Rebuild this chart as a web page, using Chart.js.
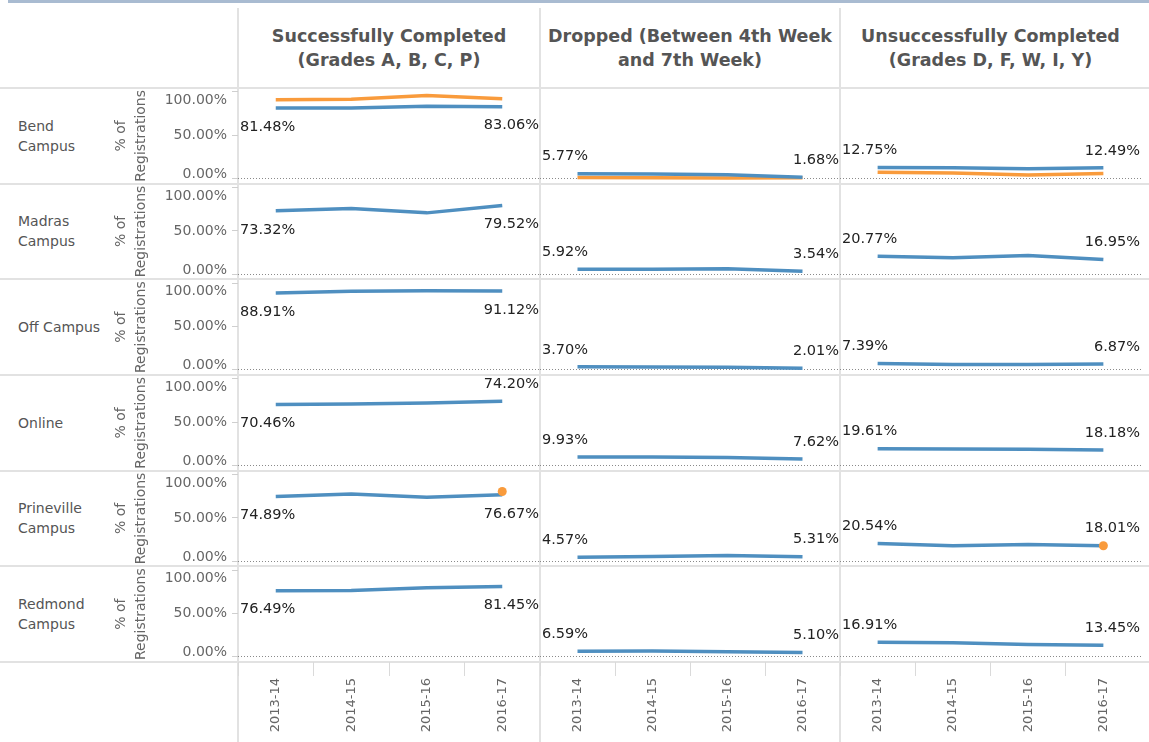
<!DOCTYPE html>
<html>
<head>
<meta charset="utf-8">
<script src="https://cdn.jsdelivr.net/npm/chart.js@4.4.1/dist/chart.umd.min.js"></script>
<style>
  body { margin: 0; background: #fff; font-family: "DejaVu Sans", sans-serif; }
  #wrap { position: relative; width: 1149px; height: 742px; overflow: hidden; }
  .topline { position: absolute; left: 8px; top: 0; width: 1141px; height: 3px; background: #a9bbd1; }
  .vline { position: absolute; top: 8px; bottom: 0; width: 2px; margin-left: -1px; background: #e2e2e2; }
  .hline { position: absolute; left: 0; width: 1149px; height: 2px; margin-top: -1px; background: #e2e2e2; }
  .head { position: absolute; top: 24px; text-align: center; font-weight: bold; font-size: 17.5px; line-height: 24px; color: #555; white-space: nowrap; }
  .rowlab { position: absolute; left: 18px; font-size: 14px; line-height: 20px; color: #555; display: flex; align-items: center; }
  canvas { position: absolute; top: 88px; }
</style>
</head>
<body>
<div id="wrap">
  <div class="topline"></div>
</div>
<script>
// categories
const seasons = ['2013-14', '2014-15', '2015-16', '2016-17'];
const campuses = [['Bend', 'Campus'], ['Madras', 'Campus'], ['Off Campus'], ['Online'], ['Prineville', 'Campus'], ['Redmond', 'Campus']];
const outcomes = [
  ['Successfully Completed', '(Grades A, B, C, P)'],
  ['Dropped (Between 4th Week', 'and 7th Week)'],
  ['Unsuccessfully Completed', '(Grades D, F, W, I, Y)']
];
const yTicks = [0, 50, 100];

// % of registrations, one row per campus, one value per season
const successful = [
  [81.48, 81.6, 83.5, 83.06],
  [73.32, 75.8, 70.9, 79.52],
  [88.91, 90.8, 91.3, 91.12],
  [70.46, 71.0, 72.2, 74.20],
  [74.89, 77.6, 73.9, 76.67],
  [76.49, 76.7, 79.8, 81.45]
];
const dropped = [
  [5.77, 5.3, 4.4, 1.68],
  [5.92, 5.9, 6.4, 3.54],
  [3.70, 3.4, 3.0, 2.01],
  [9.93, 10.0, 9.3, 7.62],
  [4.57, 5.5, 6.6, 5.31],
  [6.59, 7.0, 5.9, 5.10]
];
const unsuccessful = [
  [12.75, 12.6, 11.3, 12.49],
  [20.77, 19.2, 21.7, 16.95],
  [7.39, 6.2, 6.3, 6.87],
  [19.61, 19.3, 18.9, 18.18],
  [20.54, 17.9, 19.4, 18.01],
  [16.91, 16.5, 14.4, 13.45]
];

// second Bend series (orange line)
const bendOtherSuccessful = [91.0, 91.6, 96.0, 92.3];
const bendOtherDropped = [1.3, 1.1, 0.8, 1.0];
const bendOtherUnsuccessful = [7.4, 6.5, 4.2, 5.9];

// highlighted Prineville marks (orange dots)
const prinevilleMarkSuccessful = [null, null, null, 80.5];
const prinevilleMarkDropped = [null, null, null, null];
const prinevilleMarkUnsuccessful = [null, null, null, 18.01];

const BLUE = '#4f8fc0';
const ORANGE = '#f99b3c';
const FONT = '"DejaVu Sans", sans-serif';

const HEAD_H = 88;
const ROW_H = 574 / 6;
const AXIS_H = 80;
const colLeft = [238, 540, 840];
const colRight = [540, 840, 1141];

// which side of the line the first / last value label sits on
const labelSides = [
  [['below', 'below'], ['below', 'below'], ['below', 'below'], ['below', 'above'], ['below', 'below'], ['below', 'below']],
  campuses.map(() => ['above', 'above']),
  campuses.map(() => ['above', 'above'])
];

const wrap = document.getElementById('wrap');

function addDiv(cls, css, html) {
  const d = document.createElement('div');
  d.className = cls;
  Object.assign(d.style, css);
  if (html) d.innerHTML = html;
  wrap.appendChild(d);
  return d;
}

// grid frame, headers and row labels
for (let r = 0; r <= campuses.length; r++) {
  addDiv('hline', { top: (HEAD_H + r * ROW_H) + 'px' });
}
colLeft.forEach(x => addDiv('vline', { left: x + 'px' }));
outcomes.forEach((lines, c) => {
  addDiv('head', { left: colLeft[c] + 'px', width: (colRight[c] - colLeft[c]) + 'px' }, lines.join('<br>'));
});
campuses.forEach((lines, r) => {
  addDiv('rowlab', { top: (HEAD_H + r * ROW_H) + 'px', height: ROW_H + 'px' }, '<div>' + lines.join('<br>') + '</div>');
});

const fmtPct = v => v.toFixed(2) + '%';

// first and last value of each campus line, written beside the line
const endLabels = {
  id: 'endLabels',
  afterDatasetsDraw(chart) {
    const { ctx, chartArea } = chart;
    ctx.save();
    ctx.font = '14.5px ' + FONT;
    ctx.fillStyle = '#222';
    ctx.textBaseline = 'middle';
    chart.data.datasets.forEach((ds, i) => {
      if (!ds.labelSide) return;
      const pts = chart.getDatasetMeta(i).data;
      const last = pts.length - 1;
      [[0, 'left', chartArea.left + 2], [last, 'right', chartArea.right - 1]].forEach(([k, align, x], j) => {
        const dy = ds.labelSide[j] === 'above' ? -17 : 19;
        ctx.textAlign = align;
        ctx.fillText(fmtPct(ds.data[k]), x, pts[k].y + dy);
      });
    });
    ctx.restore();
  }
};

function noPadding(s) {
  s.paddingTop = 0;
  s.paddingBottom = 0;
  s.paddingLeft = 0;
  s.paddingRight = 0;
}

function buildColumn(c, values, bendOther, prinevilleMark) {
  const first = c === 0;
  const canvas = document.createElement('canvas');
  const left = first ? 100 : colLeft[c];
  canvas.width = colRight[c] - left;
  canvas.height = 742 - HEAD_H;
  canvas.style.left = left + 'px';
  wrap.appendChild(canvas);

  const scales = {
    x: {
      type: 'category',
      labels: seasons,
      offset: true,
      position: 'bottom',
      grid: { offset: true, drawOnChartArea: false, drawTicks: true, tickLength: 14, color: '#dadada', tickColor: '#dadada' },
      border: { display: false },
      ticks: { autoSkip: false, minRotation: 90, maxRotation: 90, padding: 2, color: '#666', font: { family: FONT, size: 13 } },
      afterFit: s => { s.height = AXIS_H; noPadding(s); }
    }
  };

  // one stacked y axis per campus row
  campuses.forEach((name, r) => {
    scales['r' + r] = {
      type: 'linear',
      position: 'left',
      stack: 'rows',
      stackWeight: 1,
      weight: campuses.length - r,
      min: -5.8,
      max: 104.6,
      afterBuildTicks: s => { s.ticks = yTicks.map(v => ({ value: v })); },
      afterFit: s => { s.width = first ? 138 : 0; noPadding(s); },
      grid: {
        color: ctx => (ctx.tick && ctx.tick.value === 0 ? '#8a8a8a' : 'rgba(0,0,0,0)'),
        tickColor: '#cfcfcf',
        drawTicks: first,
        tickLength: 6,
        lineWidth: 1
      },
      border: { display: false, dash: [1, 2] },
      ticks: {
        display: first,
        autoSkip: false,
        color: '#666',
        padding: 5,
        // top label sits below its tick, bottom label slightly above
        font: ctx => ({ family: FONT, size: 14, lineHeight: ctx.tick && ctx.tick.value === 0 ? 0.6 : 1.2 }),
        callback: v => (v === 100 ? ['', fmtPct(v)] : v === 0 ? [fmtPct(v), ''] : fmtPct(v))
      },
      title: {
        display: first,
        text: ['% of', 'Registrations'],
        color: '#666',
        font: { family: FONT, size: 14, lineHeight: 1.4 },
        padding: { top: 12, bottom: 0 }
      }
    };
  });

  const datasets = [];
  datasets.push({
    data: bendOther, yAxisID: 'r0', order: 3,
    borderColor: ORANGE, borderWidth: 3.5, pointRadius: 0, tension: 0
  });
  values.forEach((row, r) => {
    datasets.push({
      data: row, yAxisID: 'r' + r, order: 2,
      borderColor: BLUE, borderWidth: 3.5, pointRadius: 0, tension: 0,
      labelSide: labelSides[c][r]
    });
  });
  datasets.push({
    data: prinevilleMark, yAxisID: 'r4', order: 1, showLine: false,
    pointRadius: 4.5, pointBackgroundColor: ORANGE, pointBorderWidth: 0
  });

  return new Chart(canvas, {
    type: 'line',
    data: { labels: seasons, datasets },
    options: {
      responsive: false,
      animation: false,
      layout: { padding: 0, autoPadding: false },
      scales,
      plugins: { legend: { display: false }, tooltip: { enabled: false } }
    },
    plugins: [endLabels]
  });
}

buildColumn(0, successful, bendOtherSuccessful, prinevilleMarkSuccessful);
buildColumn(1, dropped, bendOtherDropped, prinevilleMarkDropped);
buildColumn(2, unsuccessful, bendOtherUnsuccessful, prinevilleMarkUnsuccessful);
</script>
</body>
</html>
